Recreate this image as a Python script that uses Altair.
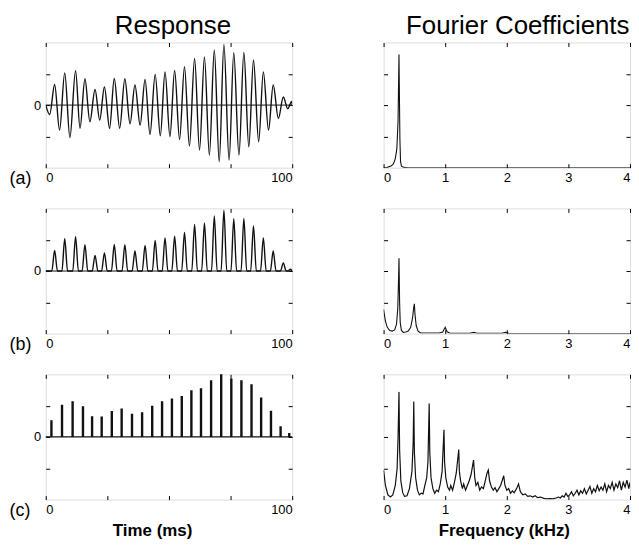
import altair as alt
import pandas as pd

# ---------------- data ----------------
# (a) response: successive extrema (time in ms, amplitude)
resp_a_t = [0, 1.6, 3.6, 5.6, 7.7, 9.8, 12.1, 13.9, 15.9, 17.9,
            20.0, 21.9, 23.8, 25.9, 27.8, 30.0, 32.1, 34.2, 36.2, 38.3,
            40.3, 42.3, 44.4, 46.5, 48.4, 50.4, 52.3, 54.3, 56.3, 58.3,
            60.4, 62.4, 64.4, 66.4, 68.4, 70.4, 72.3, 74.4, 76.3, 78.4,
            80.4, 82.4, 84.3, 86.4, 88.3, 90.4, 92.3, 94.4, 96.4, 98.2,
            99.8, 100]
resp_a_v = [0, -0.3, 0.66, -0.8, 1.03, -1.04, 1.10, -0.74, 0.84, -0.53,
            0.50, -0.48, 0.58, -0.74, 0.85, -0.74, 0.84, -0.6, 0.64, -0.64,
            0.82, -0.94, 0.98, -0.98, 1.06, -1.01, 1.11, -1.10, 1.23, -1.31,
            1.49, -1.44, 1.54, -1.60, 1.76, -1.81, 1.94, -1.76, 1.67, -1.60,
            1.68, -1.33, 1.44, -1.17, 1.06, -0.80, 0.64, -0.43, 0.26, -0.12,
            0.12, 0]

# (b) rectified response: peak times and heights
resp_b_t = [3.6, 7.7, 12.1, 15.9, 20.0, 23.8, 27.8, 32.1, 36.2, 40.3,
            44.4, 48.4, 52.3, 56.3, 60.4, 64.4, 68.4, 72.3, 76.3, 80.4,
            84.3, 88.3, 92.3, 96.4, 99.4]
resp_b_v = [0.66, 1.03, 1.10, 0.84, 0.50, 0.58, 0.85, 0.84, 0.64, 0.82,
            0.98, 1.06, 1.11, 1.23, 1.49, 1.54, 1.76, 1.94, 1.67, 1.68,
            1.44, 1.06, 0.64, 0.26, 0.06]
resp_b_halfwidth = 1.15

# (c) spike train: spike times and heights
resp_c_t = [2.3, 6.6, 10.9, 15.1, 18.8, 22.7, 26.8, 30.8, 35.0, 39.1,
            43.2, 47.2, 51.2, 55.2, 59.1, 63.0, 67.1, 71.2, 75.3, 79.4,
            83.5, 87.4, 91.4, 95.3, 98.8]
resp_c_v = [0.53, 1.03, 1.14, 0.98, 0.66, 0.65, 0.83, 0.91, 0.74, 0.79,
            1.00, 1.14, 1.23, 1.31, 1.49, 1.56, 1.81, 2.05, 1.87, 1.81,
            1.68, 1.26, 0.84, 0.34, 0.13]

# Fourier coefficients (frequency in kHz, magnitude)
four_a_f = [0, 0.06, 0.12, 0.16, 0.19, 0.215, 0.235, 0.25, 0.258, 0.265,
            0.275, 0.29, 0.33, 0.4, 4.0]
four_a_v = [0, 0.01, 0.05, 0.12, 0.29, 0.6, 1.5, 3.62, 2.1, 0.9,
            0.2, 0.05, 0.01, 0, 0]

four_b_f = [0, 0.03, 0.06, 0.1, 0.14, 0.18, 0.21, 0.23, 0.24, 0.25,
            0.26, 0.27, 0.29, 0.32, 0.36, 0.4, 0.44, 0.47, 0.49, 0.5,
            0.51, 0.53, 0.56, 0.6, 0.9, 0.96, 1.0, 1.03, 1.08, 1.4,
            1.46, 1.52, 1.92, 1.98, 2.04, 4.0]
four_b_v = [0.77, 0.4, 0.2, 0.1, 0.08, 0.12, 0.3, 0.8, 1.5, 2.41,
            1.0, 0.35, 0.1, 0.04, 0.05, 0.08, 0.2, 0.5, 0.85, 0.95,
            0.6, 0.25, 0.08, 0.02, 0.02, 0.05, 0.2, 0.06, 0.01, 0.01,
            0.04, 0.01, 0.01, 0.04, 0.0, 0.0]

four_c_f = [0.00, 0.03, 0.07, 0.11, 0.15, 0.19, 0.22, 0.235, 0.25, 0.26,
            0.28, 0.31, 0.34, 0.38, 0.42, 0.46, 0.48, 0.49, 0.50, 0.52,
            0.55, 0.58, 0.61, 0.64, 0.67, 0.70, 0.72, 0.74, 0.75, 0.77,
            0.80, 0.83, 0.86, 0.89, 0.92, 0.95, 0.98, 0.99, 1.01, 1.04,
            1.07, 1.09, 1.12, 1.15, 1.18, 1.22, 1.23, 1.25, 1.28, 1.30,
            1.33, 1.36, 1.39, 1.42, 1.46, 1.48, 1.50, 1.53, 1.56, 1.59,
            1.62, 1.65, 1.68, 1.70, 1.72, 1.75, 1.78, 1.81, 1.84, 1.87,
            1.90, 1.95, 1.97, 2.00, 2.03, 2.06, 2.09, 2.12, 2.16, 2.19,
            2.22, 2.26, 2.30, 2.34, 2.38, 2.42, 2.46, 2.50, 2.55, 2.60,
            2.65, 2.70, 2.75, 2.80, 2.84, 2.87, 2.90, 2.93, 2.96, 2.99,
            3.02, 3.05, 3.08, 3.11, 3.14, 3.17, 3.20, 3.23, 3.26, 3.29,
            3.32, 3.35, 3.38, 3.41, 3.44, 3.47, 3.50, 3.53, 3.56, 3.59,
            3.62, 3.65, 3.68, 3.71, 3.74, 3.77, 3.80, 3.83, 3.86, 3.89,
            3.92, 3.95, 3.98, 4.00]
four_c_v = [0.94, 0.45, 0.15, 0.08, 0.15, 0.45, 1.0, 2.0, 3.44, 1.6,
            0.6, 0.22, 0.1, 0.12, 0.35, 0.9, 1.8, 3.13, 1.5, 0.7,
            0.3, 0.15, 0.2, 0.18, 0.45, 0.7, 1.2, 3.07, 1.5, 0.7,
            0.35, 0.2, 0.3, 0.25, 0.5, 0.9, 2.23, 1.2, 0.7, 0.4,
            0.3, 0.45, 0.3, 0.55, 0.85, 1.60, 0.9, 0.6, 0.35, 0.5,
            0.3, 0.45, 0.6, 0.8, 1.26, 0.7, 0.45, 0.55, 0.3, 0.4,
            0.35, 0.6, 0.85, 0.94, 0.6, 0.4, 0.3, 0.38, 0.25, 0.35,
            0.45, 0.76, 0.45, 0.3, 0.35, 0.2, 0.28, 0.22, 0.35, 0.50,
            0.25, 0.15, 0.18, 0.1, 0.12, 0.08, 0.12, 0.06, 0.08, 0.04,
            0.02, 0.03, 0.02, 0.05, 0.08, 0.05, 0.12, 0.08, 0.2, 0.1,
            0.15, 0.25, 0.12, 0.2, 0.3, 0.15, 0.28, 0.2, 0.35, 0.18,
            0.3, 0.42, 0.2, 0.35, 0.25, 0.45, 0.28, 0.4, 0.3, 0.5,
            0.25, 0.45, 0.35, 0.55, 0.3, 0.5, 0.38, 0.6, 0.3, 0.55,
            0.4, 0.62, 0.35, 0.55]

time_ticks = [0, 25, 50, 75, 100]
freq_ticks = [0, 1, 2, 3, 4]
resp_yticks = [-1, 0, 1]
four_yticks = [1, 2, 3]

# ---------------- styling ----------------
W, H = 248, 126
FONT = "Liberation Sans"
INK = "#111111"


def grid_kw(length):
    return dict(grid=True, gridDash=[4, length - 8], gridColor="black",
                gridOpacity=1, gridWidth=1, ticks=False, domain=False)


def time_axis(title):
    kw = dict(values=time_ticks,
              labelExpr="datum.value == 0 || datum.value == 100 ? datum.label : ''",
              labelFlush=True, labelFontSize=13, labelFont=FONT,
              labelColor="black", labelPadding=4, **grid_kw(H))
    if title:
        kw.update(title=title, titleFont=FONT, titleFontSize=17,
                  titleFontWeight="bold", titleColor="black", titleX=107,
                  titleY=36, titleBaseline="alphabetic", titleAlign="center")
    else:
        kw["title"] = None
    return alt.Axis(**kw)


def freq_axis(title):
    kw = dict(values=freq_ticks, labelFlush=True, labelFontSize=13,
              labelFont=FONT, labelColor="black", labelPadding=4, **grid_kw(H))
    if title:
        kw.update(title=title, titleFont=FONT, titleFontSize=17,
                  titleFontWeight="bold", titleColor="black", titleX=121,
                  titleY=36, titleBaseline="alphabetic", titleAlign="center")
    else:
        kw["title"] = None
    return alt.Axis(**kw)


def resp_yaxis(label):
    return alt.Axis(values=resp_yticks,
                    labelExpr="datum.value == 0 ? '0' : ''",
                    labelFontSize=13, labelFont=FONT, labelColor="black",
                    labelPadding=5, title=label, titleAngle=0, titleX=-37,
                    titleY=H + 11, titleAlign="left", titleBaseline="middle",
                    titleFont=FONT, titleFontSize=18, titleFontWeight="normal",
                    titleColor="black", **grid_kw(W))


def four_yaxis():
    return alt.Axis(values=four_yticks, labels=False, title=None, **grid_kw(W))


def tx(title):
    return alt.X("t:Q", scale=alt.Scale(domain=[0, 100], nice=False, zero=False),
                 axis=time_axis(title))


def ry(label):
    return alt.Y("v:Q", scale=alt.Scale(domain=[-2, 2], nice=False),
                 axis=resp_yaxis(label))


def fx(title):
    return alt.X("f:Q", scale=alt.Scale(domain=[0, 4], nice=False, zero=False),
                 axis=freq_axis(title))


def fy():
    return alt.Y("a:Q", scale=alt.Scale(domain=[0, 4], nice=False),
                 axis=four_yaxis())


def head(text, dx):
    return alt.TitleParams(text=text, font=FONT, fontSize=26,
                           fontWeight="normal", color="black",
                           anchor="middle", offset=3.5, dx=dx)


zero_df = pd.DataFrame({"v": [0.0]})

# ---------------- (a) ----------------
Xa, Ya = tx(None), ry("(a)")
df_a = pd.DataFrame({"t": resp_a_t, "v": resp_a_v})
a_left = alt.layer(
    alt.Chart(zero_df).mark_rule(color=INK, strokeWidth=1).encode(y=Ya),
    alt.Chart(df_a).mark_line(interpolate="monotone", color=INK,
                              strokeWidth=1.4, clip=True).encode(x=Xa, y=Ya),
).properties(width=W, height=H, title=head("Response", 4))

df_fa = pd.DataFrame({"f": four_a_f, "a": four_a_v})
a_right = alt.Chart(df_fa).mark_line(color=INK, strokeWidth=1.1, clip=True).encode(
    x=fx(None), y=fy()
).properties(width=W, height=H, title=head("Fourier Coefficients", 11))

# ---------------- (b) ----------------
rows_b = [(0.0, 0.0)]
for t, v in zip(resp_b_t, resp_b_v):
    rows_b += [(t - resp_b_halfwidth, 0.0), (t, v), (t + resp_b_halfwidth, 0.0)]
rows_b.append((100.0, 0.0))
df_b = pd.DataFrame(rows_b, columns=["t", "v"])
Xb, Yb = tx(None), ry("(b)")
b_left = alt.layer(
    alt.Chart(zero_df).mark_rule(color=INK, strokeWidth=1).encode(y=Yb),
    alt.Chart(df_b).mark_line(interpolate="monotone", color=INK,
                              strokeWidth=1.4, clip=True).encode(x=Xb, y=Yb),
).properties(width=W, height=H)

df_fb = pd.DataFrame({"f": four_b_f, "a": four_b_v})
b_right = alt.Chart(df_fb).mark_line(color=INK, strokeWidth=1.1, clip=True).encode(
    x=fx(None), y=fy()
).properties(width=W, height=H)

# ---------------- (c) ----------------
df_c = pd.DataFrame({"t": resp_c_t, "v": resp_c_v, "z": [0.0] * len(resp_c_t)})
Xc, Yc = tx("Time (ms)"), ry("(c)")
c_left = alt.layer(
    alt.Chart(zero_df).mark_rule(color=INK, strokeWidth=1.2).encode(y=Yc),
    alt.Chart(df_c).mark_rule(color=INK, strokeWidth=2.4, clip=True).encode(
        x=Xc, y=Yc, y2=alt.Y2("z:Q")),
).properties(width=W, height=H)

df_fc = pd.DataFrame({"f": four_c_f, "a": four_c_v})
c_right = alt.Chart(df_fc).mark_line(color=INK, strokeWidth=1.2, clip=True).encode(
    x=fx("Frequency (kHz)"), y=fy()
).properties(width=W, height=H)

chart = alt.concat(
    a_left, a_right, b_left, b_right, c_left, c_right,
    columns=2, spacing={"row": 41, "column": 92}, bounds="flush",
    padding={"left": 0, "top": 3, "right": 0, "bottom": 0},
).configure_view(stroke="black", strokeWidth=1).configure(background="white")

chart.save("out.html", embed_options={"renderer": "svg", "actions": False})
